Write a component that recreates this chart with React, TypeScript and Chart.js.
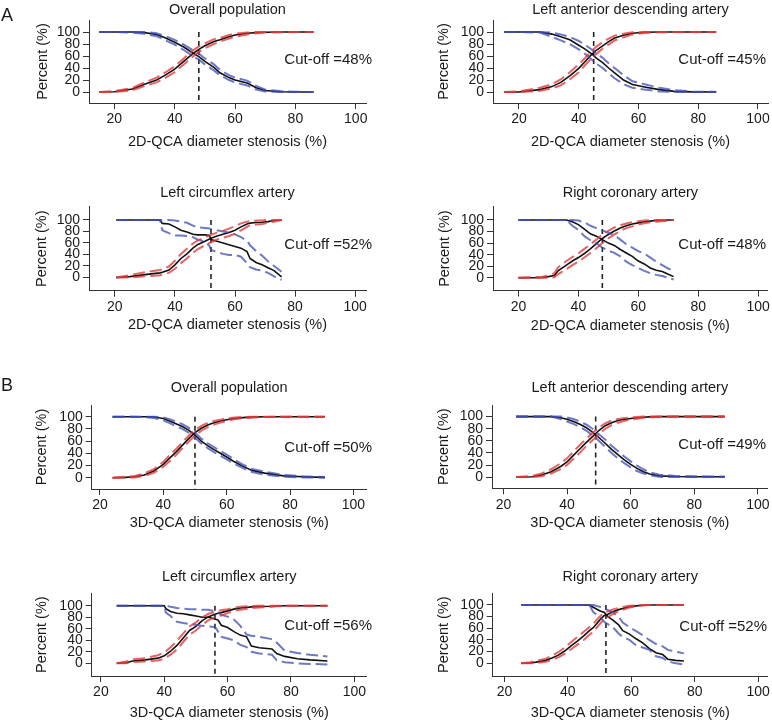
import React, { useEffect, useRef } from "react";
import { Chart, registerables } from "chart.js";
Chart.register(...registerables);

const FONT = '"Liberation Sans", Arial, Helvetica, sans-serif';

const panelTitles = [
  "Overall population", "Left anterior descending artery",
  "Left circumflex artery", "Right coronary artery",
  "Overall population", "Left anterior descending artery",
  "Left circumflex artery", "Right coronary artery",
];
const xAxisTitles = [
  "2D-QCA diameter stenosis (%)", "2D-QCA diameter stenosis (%)",
  "2D-QCA diameter stenosis (%)", "2D-QCA diameter stenosis (%)",
  "3D-QCA diameter stenosis (%)", "3D-QCA diameter stenosis (%)",
  "3D-QCA diameter stenosis (%)", "3D-QCA diameter stenosis (%)",
];
const yAxisTitle = "Percent (%)";
const cutoffValues = [48, 45, 52, 48, 50, 49, 56, 52];
const xTickValues = [20, 40, 60, 80, 100];
const yTickValues = [0, 20, 40, 60, 80, 100];

// ---- 2D-QCA: overall ----
const a1X = [15, 20, 26, 30, 34, 37, 40, 43, 46, 48, 50, 53, 55, 58, 60, 64, 67, 70, 75, 80, 86];
const a1Spec = [100, 100, 100, 99, 96, 90, 83, 75, 65, 59, 51, 41, 32, 24, 20, 15, 7, 2.5, 0.5, 0, 0];
const a1SpecLo = [100, 100, 99, 97, 93, 86, 79, 70, 60, 54, 46, 36, 28, 20, 16, 11, 4, 1, 0, 0, 0];
const a1SpecHi = [100, 100, 100, 100, 98, 93, 87, 79, 70, 64, 56, 46, 37, 28, 24, 19, 10, 4, 1.5, 0.5, 0];
const a1Sens = [0, 0.5, 5, 13, 20, 28.5, 38, 51, 64, 71, 77, 84, 87, 92, 95, 98, 99, 99.5, 100, 100, 100];
const a1SensLo = [0, 0, 3, 10, 16, 24, 33, 46, 59, 67, 73, 80, 84, 89, 92, 96, 98, 99, 99.5, 100, 100];
const a1SensHi = [0, 1.5, 7, 16, 24, 33, 43, 56, 69, 76, 81, 88, 90, 95, 97, 99, 100, 100, 100, 100, 100];

// ---- 2D-QCA: LAD ----
const a2X = [15, 20, 27, 31, 34, 37, 40, 42, 44, 46, 48, 50, 52, 55, 58, 62, 67, 72, 78, 86];
const a2Spec = [100, 100, 100, 96.5, 92, 87, 78, 72, 65, 56, 49, 40, 32, 20, 12.5, 8.5, 4, 1, 0.3, 0];
const a2SpecLo = [100, 100, 99, 92, 86, 80, 71, 64, 56, 47, 40, 31, 23, 13, 7, 4, 1, 0, 0, 0];
const a2SpecHi = [100, 100, 100, 99, 96, 92, 85, 79, 72, 64, 57, 48, 40, 28, 18, 13, 7, 3, 1, 0.3];
const a2Sens = [0, 0, 4, 9, 16, 27, 39.5, 50, 61, 70, 77, 84, 90, 94.5, 98, 99.5, 100, 100, 100, 100];
const a2SensLo = [0, 0, 2, 6, 11, 21, 33, 44, 55, 64, 72, 79, 86, 91, 96, 98.5, 99.5, 100, 100, 100];
const a2SensHi = [0, 1, 7, 13, 21, 33, 46, 56, 67, 76, 83, 89, 94, 97, 99.5, 100, 100, 100, 100, 100];

// ---- 2D-QCA: LCX ----
const a3X = [20.5, 25, 30, 35, 35.8, 38, 40, 42, 44, 46, 47.5, 50, 51.5, 52, 54, 56, 58, 60, 62, 64, 65, 67, 69, 71, 73, 75.5];
const a3Spec = [100, 100, 100, 100, 94, 93, 88, 82, 79, 75, 74, 74, 73, 66, 63, 60, 57, 54, 51, 45, 33, 26, 22, 17, 12, 1];
const a3SpecLo = [100, 100, 100, 100, 82, 77, 73, 73, 72, 70, 66, 62, 55, 48, 44, 41, 39, 39, 36, 25, 18, 14, 12, 8, 2, -4];
const a3SpecHi = [100, 100, 100, 100, 100, 100, 99, 97, 95, 90, 87, 86, 85, 84, 82, 80, 78, 75, 70, 64, 56, 46, 38, 28, 20, 10];
const a3Sens = [0, 1.5, 5, 8, 9, 13, 22, 33, 41, 51, 57, 63, 67, 68, 72, 75, 78, 82, 88, 93, 94.5, 95.5, 96, 97, 99, 100];
const a3SensLo = [0, 0, 2, 4, 5, 8, 15, 25, 33, 43, 49, 56, 60, 61, 66, 69, 72, 76, 82, 88, 91, 92, 93, 95, 97, 100];
const a3SensHi = [0, 4, 9, 13, 14, 19, 29, 41, 50, 59, 64, 70, 73, 74, 78, 81, 85, 89, 94, 97, 98, 99, 99, 100, 100, 100];

// ---- 2D-QCA: RCA ----
const a4X = [20, 25, 28, 30, 32, 33.2, 36, 38, 40, 42, 44, 46, 48, 50, 52, 54, 56, 58, 60, 62, 64, 66, 68, 70, 71.8];
const a4Spec = [100, 100, 100, 100, 100, 100, 100, 97, 92, 84, 76, 72, 66, 60, 56, 49, 43, 37, 29, 24, 17, 13, 11, 6, 2];
const a4SpecLo = [100, 100, 100, 100, 100, 100, 100, 90, 83, 72, 65, 60, 52, 47, 43, 37, 28, 22, 17, 12, 8, 5, 3, 0, -3];
const a4SpecHi = [100, 100, 100, 100, 100, 100, 100, 100, 99, 96, 90, 86, 82, 78, 74, 66, 58, 52, 46, 42, 35, 28, 22, 16, 12];
const a4Sens = [0, 0, 0.5, 2, 4, 12, 22, 29, 35, 42, 50, 59, 68, 75, 81, 86, 90, 93, 95, 97, 98, 99, 99.5, 100, 100];
const a4SensLo = [0, 0, 0, 0, 1, 6, 15, 22, 28, 35, 43, 51, 60, 68, 75, 81, 86, 89, 92, 94.5, 96, 97, 98, 99, 100];
const a4SensHi = [0, 1, 2, 4, 8, 18, 29, 36, 42, 50, 58, 66, 75, 81, 87, 91, 94, 96, 98, 99, 100, 100, 100, 100, 100];

// ---- 3D-QCA: overall ----
const b1X = [24, 28, 31, 34, 37, 40, 42, 44, 46, 48, 50, 52, 54, 56, 58, 60, 62, 65, 68, 72, 78, 84, 91];
const b1Spec = [100, 100, 100, 100, 99.5, 97, 93, 88.5, 84, 78, 70, 60, 52.5, 46, 40, 34, 27.5, 19, 12, 7.5, 3, 1.5, 0.5];
const b1SpecLo = [100, 100, 100, 99.5, 98, 94, 89.5, 84.5, 80, 74, 66, 56, 48.5, 42, 36, 30, 24, 16, 9.5, 5, 1.5, 0.5, 0];
const b1SpecHi = [100, 100, 100, 100, 100, 99, 96, 92, 88, 82, 74, 64, 56.5, 50, 44, 38, 31, 22, 14.5, 10, 4.5, 2.5, 1];
const b1Sens = [0, 0.5, 1.5, 4.5, 11, 22, 32, 42, 53, 64, 74, 81, 86.5, 90, 93, 95, 97, 98.5, 99.3, 100, 100, 100, 100];
const b1SensLo = [0, 0, 0.5, 3, 8, 18, 27, 37, 48, 59, 69, 77, 83, 87, 90.5, 93, 95.5, 97.5, 98.5, 99.5, 100, 100, 100];
const b1SensHi = [0, 1.5, 3, 7, 14, 26, 37, 47, 58, 69, 78, 85, 90, 93, 95, 97, 98.5, 99.5, 100, 100, 100, 100, 100];

// ---- 3D-QCA: LAD ----
const b2X = [24, 29, 32, 35, 38, 40, 42, 44, 46, 48, 50, 52, 54, 56, 58, 60, 62, 64, 66, 69, 74, 80, 89.6];
const b2Spec = [100, 100, 100, 100, 98, 95.5, 92, 87.5, 82, 74.5, 65.5, 56, 46, 37, 28.5, 21, 14.5, 9, 5, 2, 1, 0.5, 0.5];
const b2SpecLo = [100, 100, 100, 100, 96, 92, 88, 83, 77, 69, 60, 50, 40, 31, 23, 16, 10, 6, 3, 0.5, 0, 0, 0];
const b2SpecHi = [100, 100, 100, 100, 100, 98.5, 96, 92, 87, 80, 71, 62, 52, 43, 34, 26, 19, 13, 8, 4, 2, 1.5, 1];
const b2Sens = [0, 0.5, 3.5, 9, 17.5, 25, 36, 46.5, 57, 67, 77, 85, 90, 93.5, 95.5, 97, 98, 99, 99.5, 100, 100, 100, 100];
const b2SensLo = [0, 0, 1.5, 6, 13, 20, 30, 40, 51, 61, 71, 80, 86, 90, 93, 95, 96.5, 98, 99, 99.5, 100, 100, 100];
const b2SensHi = [0, 2, 6, 13, 23, 31, 42, 53, 63, 73, 82, 89, 93.5, 96, 97.5, 98.5, 99.5, 100, 100, 100, 100, 100, 100];

// ---- 3D-QCA: LCX ----
const b3X = [25, 28, 30, 34, 38, 40, 40.5, 42, 44, 46, 48, 50, 52, 54, 56, 57, 58, 60, 62, 64, 66, 67.5, 70, 74, 75.5, 78, 82, 86, 91.5];
const b3Spec = [100, 100, 100, 100, 100, 100, 95, 90, 87, 86, 84, 82, 80, 80, 77, 75, 66, 62, 55, 49, 46, 30, 27, 25, 17, 12, 8, 6, 4];
const b3SpecLo = [100, 100, 100, 100, 100, 100, 88, 82, 72, 70, 68, 67, 65, 64, 63, 55, 46, 43, 40, 32, 28, 20, 17, 15, 5, 2, 0, -1, -2];
const b3SpecHi = [100, 100, 100, 100, 100, 100, 100, 98, 96, 95, 94, 94, 93, 93, 90, 88, 84, 81, 76, 65, 50, 48, 46, 42, 36, 22, 18, 15, 12];
const b3Sens = [0, 1, 4, 6, 9, 13, 15, 21, 31, 44, 57, 64, 74, 81, 85, 87, 88, 91, 94, 96, 97, 98, 98.5, 99, 99.5, 100, 100, 100, 100];
const b3SensLo = [0, 0, 2, 3, 5, 8, 10, 15, 24, 37, 50, 57, 67, 75, 80, 82, 83, 87, 91, 93, 94.5, 96, 97, 98, 99, 100, 100, 100, 100];
const b3SensHi = [0, 3, 7, 9, 14, 19, 21, 28, 39, 52, 64, 71, 80, 86, 89, 91, 92, 94, 96.5, 98, 99, 99.5, 100, 100, 100, 100, 100, 100, 100];

// ---- 3D-QCA: RCA ----
const b4X = [25.3, 28, 30, 33, 35, 37, 39, 41, 43, 45, 46.8, 48, 50, 51.5, 52.6, 54, 56, 57.3, 59.4, 61.5, 63.6, 65.7, 67.8, 69.9, 71.5, 74, 76.6];
const b4Spec = [100, 100, 100, 100, 100, 100, 100, 100, 100, 100, 100, 96, 90, 87, 80, 75, 66, 56, 50, 42, 35, 25, 18, 15, 7, 5, 4];
const b4SpecLo = [100, 100, 100, 100, 100, 100, 100, 100, 100, 100, 100, 88, 80, 71, 67, 63, 51, 45, 40, 31, 27, 23, 12, 9, 3, 0, -2];
const b4SpecHi = [100, 100, 100, 100, 100, 100, 100, 100, 100, 100, 100, 100, 97, 95, 91, 88, 80, 70, 62, 55, 48, 40, 33, 29, 23, 20, 17];
const b4Sens = [0, 0.5, 2, 5, 9, 14, 21, 30, 38, 47, 56, 61, 74, 82, 84, 88, 92, 94, 97, 98.5, 99.5, 100, 100, 100, 100, 100, 100];
const b4SensLo = [0, 0, 0.5, 2.5, 6, 10, 16, 24, 32, 40, 49, 54, 67, 76, 79, 84, 89, 91.5, 95.5, 97.5, 99, 100, 100, 100, 100, 100, 100];
const b4SensHi = [0, 2, 4, 8, 13, 19, 27, 36, 45, 54, 62, 68, 80, 87, 89, 92, 95, 96.5, 98.5, 99.5, 100, 100, 100, 100, 100, 100, 100];

const panelData = [
  { x: a1X, spec: a1Spec, specLo: a1SpecLo, specHi: a1SpecHi, sens: a1Sens, sensLo: a1SensLo, sensHi: a1SensHi },
  { x: a2X, spec: a2Spec, specLo: a2SpecLo, specHi: a2SpecHi, sens: a2Sens, sensLo: a2SensLo, sensHi: a2SensHi },
  { x: a3X, spec: a3Spec, specLo: a3SpecLo, specHi: a3SpecHi, sens: a3Sens, sensLo: a3SensLo, sensHi: a3SensHi },
  { x: a4X, spec: a4Spec, specLo: a4SpecLo, specHi: a4SpecHi, sens: a4Sens, sensLo: a4SensLo, sensHi: a4SensHi },
  { x: b1X, spec: b1Spec, specLo: b1SpecLo, specHi: b1SpecHi, sens: b1Sens, sensLo: b1SensLo, sensHi: b1SensHi },
  { x: b2X, spec: b2Spec, specLo: b2SpecLo, specHi: b2SpecHi, sens: b2Sens, sensLo: b2SensLo, sensHi: b2SensHi },
  { x: b3X, spec: b3Spec, specLo: b3SpecLo, specHi: b3SpecHi, sens: b3Sens, sensLo: b3SensLo, sensHi: b3SensHi },
  { x: b4X, spec: b4Spec, specLo: b4SpecLo, specHi: b4SpecHi, sens: b4Sens, sensLo: b4SensLo, sensHi: b4SensHi },
];

// Layout (page pixels): canvas band, plot area, axis ranges, text anchors
const layouts = [
  { col: 0, top: 0, h: 160, L: 89, R: 366, T: 20, B: 103, xMin: 11.6, xMax: 103.4, yMin: -18.3, yMax: 120, yTitleX: 43.3, xTitleY: 142, titleY: 9.5, cutRight: 372, cutY: 60 },
  { col: 1, top: 0, h: 160, L: 493, R: 768, T: 20, B: 103, xMin: 11.3, xMax: 103.35, yMin: -18.3, yMax: 120, yTitleX: 444.3, xTitleY: 141.7, titleY: 9.5, cutRight: 766, cutY: 60 },
  { col: 0, top: 165, h: 175, L: 89, R: 366, T: 206.7, B: 290.7, xMin: 11.4, xMax: 103.6, yMin: -23, yMax: 123, yTitleX: 41.7, xTitleY: 325, titleY: 193, cutRight: 372, cutY: 245 },
  { col: 1, top: 165, h: 175, L: 493, R: 767.7, T: 206.7, B: 290.5, xMin: 11.5, xMax: 103.2, yMin: -22, yMax: 123, yTitleX: 444.8, xTitleY: 326, titleY: 193, cutRight: 766, cutY: 245 },
  { col: 0, top: 370, h: 170, L: 91.7, R: 366.7, T: 405, B: 489, xMin: 17.4, xMax: 104.2, yMin: -18.5, yMax: 119.2, yTitleX: 41.7, xTitleY: 523.3, titleY: 388, cutRight: 372, cutY: 447.7 },
  { col: 1, top: 370, h: 170, L: 492, R: 767.7, T: 405, B: 488.3, xMin: 16.4, xMax: 103.1, yMin: -18.5, yMax: 119.2, yTitleX: 444.3, xTitleY: 523.3, titleY: 388.3, cutRight: 766, cutY: 445 },
  { col: 0, top: 545, h: 179, L: 91.7, R: 366.7, T: 593.3, B: 676, xMin: 17.1, xMax: 103.9, yMin: -22, yMax: 121.5, yTitleX: 41.7, xTitleY: 713.3, titleY: 576.7, cutRight: 372, cutY: 625.7 },
  { col: 1, top: 545, h: 179, L: 492.7, R: 767.7, T: 593.3, B: 676, xMin: 16.3, xMax: 103, yMin: -21.8, yMax: 120, yTitleX: 444.3, xTitleY: 713.3, titleY: 576.7, cutRight: 767, cutY: 626.7 },
];

const COL_W = 386;
const TITLE_SIZE = 14.5;
const TICK_SIZE = 14;
const TEXT_COLOR = "#1a1a1a";
const RED = "rgba(225,55,55,0.78)";
const BLUE = "rgba(60,75,180,0.75)";
const BLACK = "#111111";
const CI_DASH = [12, 5];

function Panel({ idx }: { idx: number }) {
  const ref = useRef<HTMLCanvasElement | null>(null);
  const lay = layouts[idx];
  useEffect(() => {
    const d = panelData[idx];
    const cLeft = lay.col * COL_W;
    const half = 0.6 * TITLE_SIZE;
    const yScaleLeft = lay.yTitleX - half;
    const yW = lay.L - yScaleLeft;
    const xScaleBottom = lay.xTitleY + half;
    const xH = xScaleBottom - lay.B;
    const padding = {
      left: yScaleLeft - cLeft,
      right: cLeft + COL_W - lay.R,
      top: lay.T - lay.top,
      bottom: lay.top + lay.h - xScaleBottom,
    };
    const pts = (ys: number[]) => d.x.map((x, i) => ({ x, y: ys[i] }));
    const ln = (data: any, color: string, width: number, dash: number[]) => ({
      data, borderColor: color, borderWidth: width, borderDash: dash,
      pointRadius: 0, fill: false, tension: 0,
    });
    const cut = cutoffValues[idx];
    const textPlugin = {
      id: "panelText" + idx,
      afterDraw(chart: any) {
        const ctx = chart.ctx;
        const a = chart.chartArea;
        ctx.save();
        ctx.fillStyle = TEXT_COLOR;
        ctx.textBaseline = "middle";
        ctx.textAlign = "center";
        ctx.font = `${TITLE_SIZE}px ${FONT}`;
        ctx.fillText(panelTitles[idx], (a.left + a.right) / 2, lay.titleY - lay.top);
        ctx.textAlign = "right";
        ctx.font = `15px ${FONT}`;
        ctx.fillText(`Cut-off =${cut}%`, lay.cutRight - cLeft, lay.cutY - lay.top);
        ctx.restore();
      },
    };
    const axisCommon = {
      type: "linear" as const,
      border: { display: true, color: "#333", width: 1 },
      grid: { display: true, drawOnChartArea: false, drawTicks: true, tickLength: 6, color: "#333" },
    };
    const chart = new Chart(ref.current as HTMLCanvasElement, {
      type: "line",
      data: {
        datasets: [
          ln(pts(d.sensLo), RED, 2, CI_DASH),
          ln(pts(d.sensHi), RED, 2, CI_DASH),
          ln(pts(d.specLo), BLUE, 2, CI_DASH),
          ln(pts(d.specHi), BLUE, 2, CI_DASH),
          ln(pts(d.sens), BLACK, 1.6, []),
          ln(pts(d.spec), BLACK, 1.6, []),
          ln([{ x: cut, y: 100 }, { x: cut, y: lay.yMin }], "#222", 1.6, [5, 4]),
        ] as any,
      },
      options: {
        animation: false,
        responsive: false,
        events: [],
        layout: { padding },
        plugins: { legend: { display: false }, tooltip: { enabled: false }, title: { display: false } },
        scales: {
          x: {
            ...axisCommon,
            position: "bottom",
            min: lay.xMin,
            max: lay.xMax,
            afterBuildTicks: (s: any) => { s.ticks = xTickValues.map((v) => ({ value: v })); },
            afterFit: (s: any) => { s.height = xH; },
            ticks: { autoSkip: false, maxRotation: 0, padding: 2, color: TEXT_COLOR, font: { family: FONT, size: TICK_SIZE } },
            title: { display: true, text: xAxisTitles[idx], color: TEXT_COLOR, padding: 0, font: { family: FONT, size: TITLE_SIZE, lineHeight: 1.2 } },
          },
          y: {
            ...axisCommon,
            position: "left",
            min: lay.yMin,
            max: lay.yMax,
            afterBuildTicks: (s: any) => { s.ticks = yTickValues.map((v) => ({ value: v })); },
            afterFit: (s: any) => { s.width = yW; },
            ticks: { autoSkip: false, padding: 3, color: TEXT_COLOR, font: { family: FONT, size: TICK_SIZE } },
            title: { display: true, text: yAxisTitle, color: TEXT_COLOR, padding: 0, font: { family: FONT, size: TITLE_SIZE, lineHeight: 1.2 } },
          },
        },
      } as any,
      plugins: [textPlugin],
    });
    return () => chart.destroy();
  }, [idx]);
  return (
    <canvas
      ref={ref}
      width={COL_W}
      height={lay.h}
      style={{ position: "absolute", left: lay.col * COL_W, top: lay.top, width: COL_W, height: lay.h }}
    />
  );
}

export default function App() {
  const letterStyle = (top: number): React.CSSProperties => ({
    position: "absolute", left: 1, top, fontFamily: FONT, fontSize: 18, lineHeight: 1, color: TEXT_COLOR,
  });
  return (
    <div style={{ position: "absolute", left: 0, top: 0, width: 772, height: 724, background: "#fff", overflow: "hidden" }}>
      {layouts.map((_, i) => <Panel key={i} idx={i} />)}
      <div style={letterStyle(5.5)}>A</div>
      <div style={letterStyle(375.5)}>B</div>
    </div>
  );
}
